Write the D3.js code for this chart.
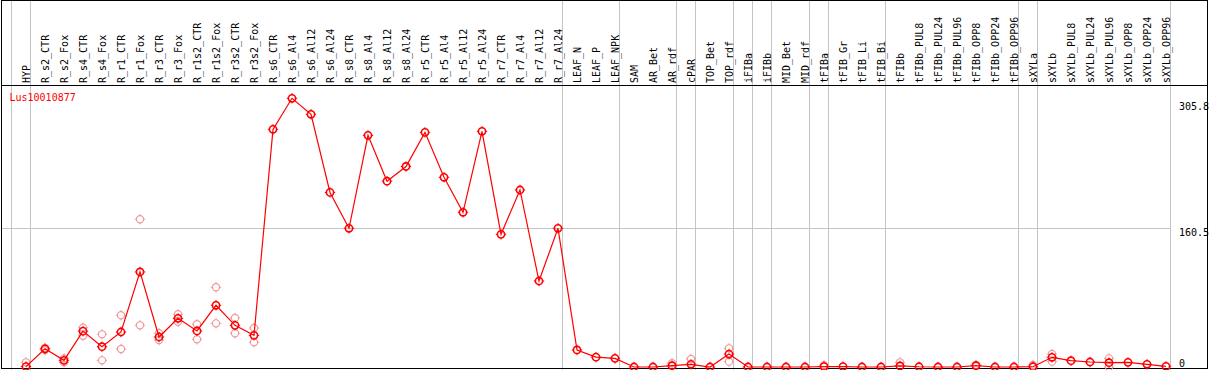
<!DOCTYPE html>
<html>
<head>
<meta charset="utf-8">
<script src="https://cdn.jsdelivr.net/npm/d3@7"></script>
<style>
    body { margin: 0; background: #fff; }
    text { font-family: "DejaVu Sans Mono", monospace; font-size: 10px; }
</style>
</head>
<body>
<svg id="chart" width="1209" height="370"></svg>
<script>
// sample names, left to right
var samples = ["HYP", "R_s2_CTR", "R_s2_Fox", "R_s4_CTR", "R_s4_Fox", "R_r1_CTR", "R_r1_Fox",
    "R_r3_CTR", "R_r3_Fox", "R_r1s2_CTR", "R_r1s2_Fox", "R_r3s2_CTR", "R_r3s2_Fox",
    "R_s6_CTR", "R_s6_Al4", "R_s6_Al12", "R_s6_Al24", "R_s8_CTR", "R_s8_Al4", "R_s8_Al12", "R_s8_Al24",
    "R_r5_CTR", "R_r5_Al4", "R_r5_Al12", "R_r5_Al24", "R_r7_CTR", "R_r7_Al4", "R_r7_Al12", "R_r7_Al24",
    "LEAF_N", "LEAF_P", "LEAF_NPK", "SAM", "AR_Bet", "AR_rdf", "cPAR", "TOP_Bet", "TOP_rdf",
    "iFIBa", "iFIBb", "MID_Bet", "MID_rdf", "tFIBa", "tFIB_Gr", "tFIB_Li", "tFIB_Bi", "tFIBb",
    "tFIBb_PUL8", "tFIBb_PUL24", "tFIBb_PUL96", "tFIBb_OPP8", "tFIBb_OPP24", "tFIBb_OPP96",
    "sXYLa", "sXYLb", "sXYLb_PUL8", "sXYLb_PUL24", "sXYLb_PUL96", "sXYLb_OPP8", "sXYLb_OPP24", "sXYLb_OPP96"];

// number of samples in each tissue group (separators drawn between groups)
var groupSizes = [1, 28, 3, 3, 1, 2, 1, 1, 2, 1, 3, 7, 1, 7];

var gene = "Lus10010877";

// mean expression per sample
var means = [0.5, 21, 7.7, 41.5, 23.5, 40.5, 110, 34.7, 56.3, 41.7, 71.4, 48.2, 36.6,
    275, 310.9, 292.4, 202, 160.5, 268, 215, 232,
    271.5, 219.5, 179, 272.7, 153.5, 204.8, 99.5, 160.5,
    19.7, 11.4, 10, 0, 0, 1.5, 3.1, 0, 15,
    0, 0, 0, 0, 0.5, 0.5, 0, 0, 1.2,
    0.3, 0, 0, 1.5, 0, 0,
    0.3, 11.2, 7.3, 5.8, 5, 5.4, 3.1, 0.8];

// replicate values (only the ones visible apart from the mean)
var replicates = [[5.4], [22, 19.5], [10, 5.4], [45.5, 36.2], [37.8, 7.7], [59.8, 20.8], [171, 48.2],
    [39, 31.2], [61, 52.4], [49.4, 32], [92.2, 50.5], [56.7, 39], [45.1, 28.6],
    [], [], [], [], [], [], [], [],
    [], [], [], [], [], [], [], [],
    [], [], [], [], [], [4.3], [9.3], [], [21.6, 6.2],
    [], [], [], [], [2], [], [], [], [5.4],
    [], [], [], [2.5], [], [],
    [2.3], [15, 6.2], [], [], [10, 0], [], [], []];

// value axis labels
var yTicks = [0, 160.5, 305.8];

var W = 1209, H = 370;
var headerBottom = 85.5, plotBottom = 367;
var RED = "#ff0000", PINK = "#ec9c9c", GREY = "#c4c4c4";

var svg = d3.select("#chart");

var x = d3.scaleBand().domain(samples).range([11.5, 1170.5]).padding(0);
var px = d => x(d) + 14.5; // marker sits right of the band centre
var y = d3.scaleLinear().domain([0, 305.8]).range([plotBottom, 102.7]);

// group separators, full height
var edges = [x(samples[0])], acc = 0;
groupSizes.forEach(n => {
    acc += n;
    edges.push(x(samples[acc - 1]) + x.bandwidth());
});
svg.append("g").selectAll("line").data(edges).enter().append("line")
    .attr("x1", d => d).attr("x2", d => d)
    .attr("y1", 0).attr("y2", H)
    .attr("stroke", GREY).attr("stroke-width", 1);

// horizontal grid at the middle tick
svg.append("line")
    .attr("x1", 1).attr("x2", x.range()[1])
    .attr("y1", Math.round(y(160.5)) + 0.5).attr("y2", Math.round(y(160.5)) + 0.5)
    .attr("stroke", GREY);

// frame and header rule
svg.append("rect")
    .attr("x", 1.5).attr("y", 0.5).attr("width", W - 3).attr("height", 368)
    .attr("fill", "none").attr("stroke", "#000");
svg.append("line")
    .attr("x1", 1).attr("x2", W - 1).attr("y1", headerBottom).attr("y2", headerBottom)
    .attr("stroke", "#000");

// sample labels, rotated
svg.append("g").selectAll("text").data(samples).enter().append("text")
    .attr("transform", d => `translate(${px(d) + 4},83) rotate(-90)`)
    .attr("fill", "#000")
    .text(d => d);

svg.append("text").attr("x", 9.5).attr("y", 100.5).attr("fill", RED).text(gene);

// value labels at the right
svg.append("g").selectAll("text").data(yTicks).enter().append("text")
    .attr("x", 1179)
    .attr("y", d => d === 0 ? y(d) - 0.5 : y(d) + 7.5)
    .attr("fill", "#000")
    .text(d => d);

// marker: ring with four small ticks
function marker(sel, color, sw) {
    sel.append("circle").attr("r", 3.6)
        .attr("fill", "none").attr("stroke", color).attr("stroke-width", sw);
    [[0, -1], [0, 1], [-1, 0], [1, 0]].forEach(v => {
        sel.append("line")
            .attr("x1", v[0] * 3.6).attr("y1", v[1] * 3.6)
            .attr("x2", v[0] * 5.2).attr("y2", v[1] * 5.2)
            .attr("stroke", color).attr("stroke-width", 1);
    });
}

var plot = svg.append("g");

// replicates
var repPts = [];
replicates.forEach((r, i) => r.forEach(v => repPts.push({s: samples[i], v: v})));
plot.selectAll(".rep").data(repPts).enter().append("g")
    .attr("class", "rep")
    .attr("transform", d => `translate(${px(d.s)},${y(d.v)})`)
    .each(function() { marker(d3.select(this), PINK, 1.2); });

// mean line
var line = d3.line().x((d, i) => px(samples[i])).y(d => y(d));
plot.append("path").datum(means)
    .attr("d", line)
    .attr("fill", "none").attr("stroke", RED).attr("stroke-width", 1.2);

plot.selectAll(".mean").data(means).enter().append("g")
    .attr("class", "mean")
    .attr("transform", (d, i) => `translate(${px(samples[i])},${y(d)})`)
    .each(function() { marker(d3.select(this), RED, 1.6); });
</script>
</body>
</html>
